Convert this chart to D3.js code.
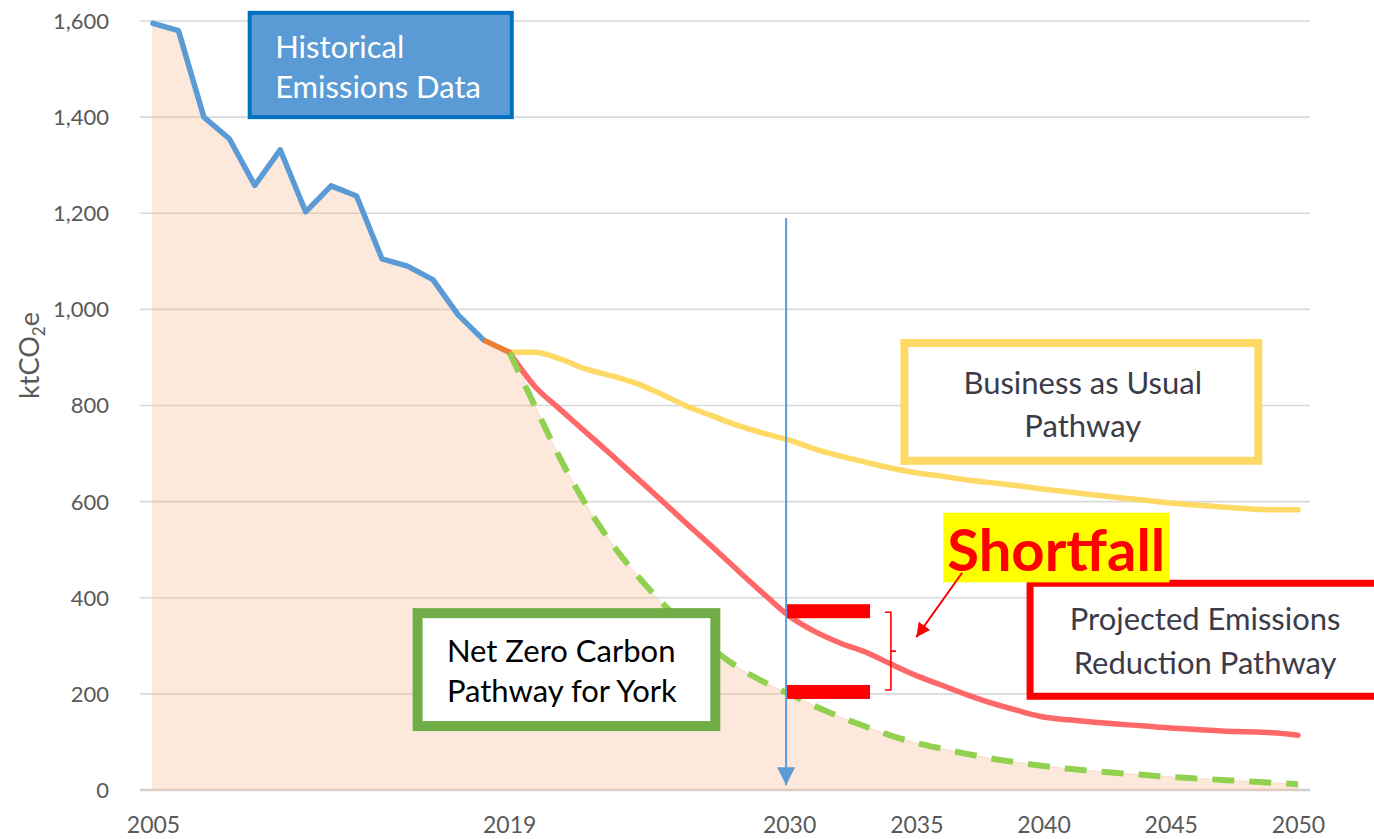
<!DOCTYPE html>
<html>
<head>
<meta charset="utf-8">
<script src="https://cdn.jsdelivr.net/npm/d3@7"></script>
<style>
  html, body { margin: 0; padding: 0; background: #fff; }
  svg { display: block; font-family: Lato, "Open Sans", sans-serif; }
</style>
</head>
<body>
<script>
// values (ktCO2e)
const histYears = d3.range(2005, 2019);
const historical = [1595, 1580, 1400, 1355, 1258, 1332, 1203, 1257, 1236, 1105, 1090, 1062, 988, 936];
const bridgeYears = [2018, 2019];
const bridge = [936, 911];
const futureYears = d3.range(2019, 2051);
const businessAsUsual = [911, 911, 897, 876, 862, 846, 823, 798, 778, 758, 742, 728, 710, 695, 682, 670,
  660, 653, 645, 639, 633, 626, 620, 614, 608, 603, 597, 593, 589, 585, 583, 583];
const projected = [911, 840, 792, 745, 698, 650, 602, 553, 505, 456, 408, 362, 330, 306, 287, 262,
  238, 218, 198, 180, 165, 152, 146, 141, 137, 133, 129, 126, 123, 121, 119, 114];
const netZero = [911, 800, 690, 595, 515, 448, 390, 338, 293, 255, 225, 200, 175, 152, 132, 113,
  98, 86, 75, 65, 57, 50, 44, 39, 35, 31, 27, 24, 21, 18, 15, 12];
const xTickYears = [2005, 2019, 2030, 2035, 2040, 2045, 2050];
const yTickValues = d3.range(0, 1601, 200);
const shortfallYear = 2030;
const shortfallLevels = [372, 204];

const width = 1374, height = 839;
const margin = { top: 21, right: 76, bottom: 49, left: 153 };

const svg = d3.select("body").append("svg")
  .attr("width", width).attr("height", height);

const x = d3.scaleLinear().domain([2005, 2050]).range([margin.left, width - margin.right]);
const y = d3.scaleLinear().domain([0, 1600]).range([height - margin.bottom, margin.top]);

// gridlines
svg.append("g")
  .selectAll("line")
  .data(yTickValues)
  .join("line")
  .attr("x1", x(2005) - 13)
  .attr("x2", x(2050) + 12)
  .attr("y1", d => y(d))
  .attr("y2", d => y(d))
  .attr("stroke", d => d === 0 ? "#d0d0d0" : "#d9d9d9")
  .attr("stroke-width", d => d === 0 ? 2.5 : 1.6);

// shaded area under historical + net zero pathway
const areaData = histYears.map((yr, i) => [yr, historical[i]])
  .concat(futureYears.map((yr, i) => [yr, netZero[i]]));
svg.append("path")
  .datum(areaData)
  .attr("fill", "#f4b183")
  .attr("fill-opacity", 0.28)
  .attr("stroke", "#f8cbad")
  .attr("stroke-opacity", 0.6)
  .attr("d", d3.area().x(d => x(d[0])).y0(y(0)).y1(d => y(d[1])).curve(d3.curveMonotoneX));

// axis labels
svg.append("g")
  .attr("transform", `translate(${x(2005) - 41},0)`)
  .call(d3.axisLeft(y).tickValues(yTickValues).tickSize(0).tickFormat(d3.format(",")))
  .call(g => g.select(".domain").remove())
  .call(g => g.selectAll("text")
    .attr("fill", "#595959")
    .attr("font-size", 22)
    .attr("font-family", "Lato, sans-serif")
    .attr("dy", "0.34em"));

svg.append("g")
  .attr("transform", `translate(0,${y(0) + 24})`)
  .call(d3.axisBottom(x).tickValues(xTickYears).tickSize(0).tickFormat(d3.format("d")))
  .call(g => g.select(".domain").remove())
  .call(g => g.selectAll("text")
    .attr("fill", "#595959")
    .attr("font-size", 23)
    .attr("font-family", "Lato, sans-serif")
    .attr("dy", "0.7em"));

const yLabel = svg.append("text")
  .attr("transform", `translate(39,${y(800) - 50}) rotate(-90)`)
  .attr("text-anchor", "middle")
  .attr("fill", "#595959")
  .attr("font-size", 27);
yLabel.append("tspan").text("ktCO");
yLabel.append("tspan").attr("font-size", 17).attr("dy", 6).text("2");
yLabel.append("tspan").attr("dy", -6).text("e");

const line = d3.line().x(d => x(d[0])).y(d => y(d[1]));
const pairs = (years, vals) => years.map((yr, i) => [yr, vals[i]]);

// business as usual
svg.append("path")
  .datum(pairs(futureYears, businessAsUsual))
  .attr("fill", "none").attr("stroke", "#ffd966").attr("stroke-width", 5.5)
  .attr("stroke-linecap", "round").attr("stroke-linejoin", "round")
  .attr("d", line.curve(d3.curveMonotoneX));

// projected emissions reduction
svg.append("path")
  .datum(pairs(futureYears, projected))
  .attr("fill", "none").attr("stroke", "#ff5b5b").attr("stroke-opacity", 0.92).attr("stroke-width", 5.5)
  .attr("stroke-linecap", "round").attr("stroke-linejoin", "round")
  .attr("d", line.curve(d3.curveMonotoneX));

// net zero pathway
svg.append("path")
  .datum(pairs(futureYears, netZero))
  .attr("fill", "none").attr("stroke", "#92d050").attr("stroke-width", 6)
  .attr("stroke-dasharray", "22 15")
  .attr("d", line.curve(d3.curveMonotoneX));

// historical
svg.append("path")
  .datum(pairs(histYears, historical))
  .attr("fill", "none").attr("stroke", "#5b9bd5").attr("stroke-width", 5.5)
  .attr("stroke-linecap", "round").attr("stroke-linejoin", "round")
  .attr("d", line.curve(d3.curveLinear));

svg.append("path")
  .datum(pairs(bridgeYears, bridge))
  .attr("fill", "none").attr("stroke", "#ed7d31").attr("stroke-width", 5.5)
  .attr("d", line.curve(d3.curveLinear));

// shortfall bars at 2030
svg.append("g")
  .selectAll("rect")
  .data(shortfallLevels)
  .join("rect")
  .attr("x", x(shortfallYear) - 3)
  .attr("y", d => y(d) - 7)
  .attr("width", x(2033.3) - x(shortfallYear))
  .attr("height", 14)
  .attr("fill", "#ff0000");

// 2030 marker line with arrow
const defs = svg.append("defs");
defs.append("marker")
  .attr("id", "blueArrow").attr("viewBox", "0 0 10 10")
  .attr("refX", 10).attr("refY", 5)
  .attr("markerWidth", 9).attr("markerHeight", 9).attr("markerUnits", "strokeWidth")
  .attr("orient", "auto")
  .append("path").attr("d", "M0,0 L10,5 L0,10 z").attr("fill", "#5b9bd5");
defs.append("marker")
  .attr("id", "redArrow").attr("viewBox", "0 0 10 10")
  .attr("refX", 10).attr("refY", 5)
  .attr("markerWidth", 7).attr("markerHeight", 7).attr("markerUnits", "strokeWidth")
  .attr("orient", "auto")
  .append("path").attr("d", "M0,0 L10,5 L0,10 z").attr("fill", "#ff0000");

svg.append("line")
  .attr("x1", x(shortfallYear) - 3).attr("x2", x(shortfallYear) - 3)
  .attr("y1", y(1190)).attr("y2", y(10))
  .attr("stroke", "#5b9bd5").attr("stroke-width", 2)
  .attr("marker-end", "url(#blueArrow)");

// bracket
const bx = x(2034.0);
const bTop = y(shortfallLevels[0]) + 1, bBot = y(shortfallLevels[1]) - 2, bMid = (bTop + bBot) / 2;
svg.append("path")
  .attr("d", `M${bx - 6},${bTop} L${bx},${bTop} L${bx},${bBot} L${bx - 6},${bBot} M${bx},${bMid} L${bx + 5},${bMid}`)
  .attr("fill", "none").attr("stroke", "#ff0000").attr("stroke-width", 1.6);

// annotation boxes
function box(x0, y0, x1, y1, fill, stroke, sw) {
  svg.append("rect")
    .attr("x", x(x0)).attr("y", y(y0))
    .attr("width", x(x1) - x(x0)).attr("height", y(y1) - y(y0))
    .attr("fill", fill).attr("stroke", stroke).attr("stroke-width", sw);
}
function label(lines, px, py, opts) {
  const t = svg.append("text")
    .attr("x", px).attr("y", py)
    .attr("text-anchor", opts.anchor || "start")
    .attr("fill", opts.color)
    .attr("font-size", opts.size)
    .attr("font-weight", opts.weight || "normal");
  lines.forEach((s, i) => t.append("tspan").attr("x", px).attr("dy", i ? opts.lh : 0).text(s));
}

box(2008.8, 1617, 2019.1, 1400, "#5b9bd5", "#0070c0", 4);
label(["Historical", "Emissions Data"], x(2009.8), y(1523), { color: "#ffffff", size: 31, lh: 40 });

box(2034.53, 930, 2048.44, 685, "#ffffff", "#ffd966", 8);
label(["Business as Usual", "Pathway"], x(2041.54), y(824), { color: "#3b3b4a", size: 31, lh: 43, anchor: "middle" });

box(2015.4, 368, 2027.1, 133, "#ffffff", "#70ad47", 10);
label(["Net Zero Carbon", "Pathway for York"], x(2016.55), y(266), { color: "#000000", size: 31, lh: 40 });

svg.append("path")
  .attr("d", `M${width + 10},${y(430)} L${x(2039.47)},${y(430)} L${x(2039.47)},${y(195)} L${width + 10},${y(195)}`)
  .attr("fill", "#ffffff").attr("stroke", "#ff0000").attr("stroke-width", 7);
label(["Projected Emissions", "Reduction Pathway"], x(2046.35), y(333), { color: "#3b3b4a", size: 31, lh: 44, anchor: "middle" });

// shortfall callout
svg.append("rect")
  .attr("x", x(2036.06)).attr("y", y(577))
  .attr("width", x(2044.95) - x(2036.06)).attr("height", y(432) - y(577))
  .attr("fill", "#ffff00");
label(["Shortfall"], x(2040.5), y(456), { color: "#ff0000", size: 58, weight: "bold", anchor: "middle" });

svg.append("line")
  .attr("x1", x(2036.8)).attr("y1", y(452))
  .attr("x2", x(2035.0)).attr("y2", y(318))
  .attr("stroke", "#ff0000").attr("stroke-width", 2)
  .attr("marker-end", "url(#redArrow)");
</script>
</body>
</html>
